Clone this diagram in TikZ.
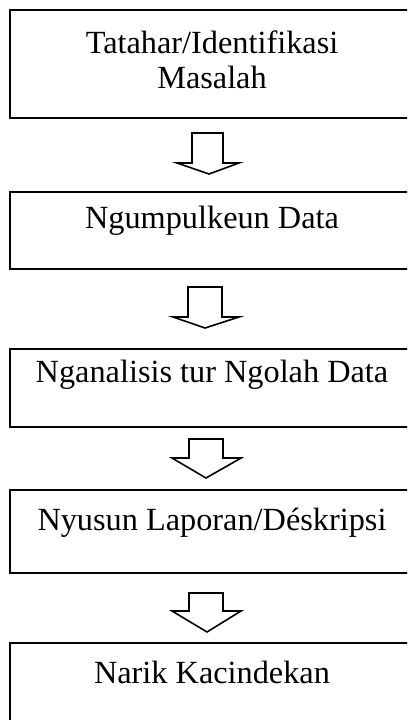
\documentclass[tikz,border=0pt]{standalone}
\usepackage{fontspec}
\setmainfont{Liberation Serif}
\tikzset{
  kotak/.style={draw, line width=1.6pt, fill=white, inner sep=0pt,
    minimum width=404pt, font=\fontsize{32.3}{35}\selectfont},
  panah/.style={draw, line width=1.6pt, fill=white, line join=miter}
}
\begin{document}
\begin{tikzpicture}[x=1pt,y=-1pt]
      \clip (0,0) rectangle (407,720);
      % kotak-kotak lengkah
      \node[kotak, align=center, anchor=base, text height=78pt, text depth=30pt]
        (tatahar) at (212,88) {Tatahar/Identifikasi\\Masalah};
      \node[kotak, anchor=base, text height=36pt, text depth=41pt]
        (ngumpulkeun) at (212,228) {Ngumpulkeun Data};
      \node[kotak, anchor=base, text height=33pt, text depth=45pt]
        (nganalisis) at (212,382) {Nganalisis tur Ngolah Data\hspace{12pt}};
      \node[kotak, anchor=base, text height=40pt, text depth=43pt]
        (nyusun) at (212,530) {Nyusun Laporan/Déskripsi};
      \node[kotak, anchor=base, text height=40pt, text depth=77pt]
        (narik) at (212,683) {Narik Kacindekan};
      % panah
      \begin{scope}[panah]
        \draw (192,133) -- (223,133) -- (223,163) -- (239,163) -- (209,174)
          -- (177,163) -- (192,163) -- cycle;
        \draw (188,287) -- (222,287) -- (222,317) -- (239,317) -- (205,328)
          -- (173,317) -- (188,317) -- cycle;
        \draw (189,439) -- (223,439) -- (223,458) -- (241,458) -- (206,478)
          -- (172,458) -- (189,458) -- cycle;
        \draw (189,593) -- (223,593) -- (223,611) -- (241,611) -- (207,632)
          -- (172,611) -- (189,611) -- cycle;
      \end{scope}
    \end{tikzpicture}
\end{document}
